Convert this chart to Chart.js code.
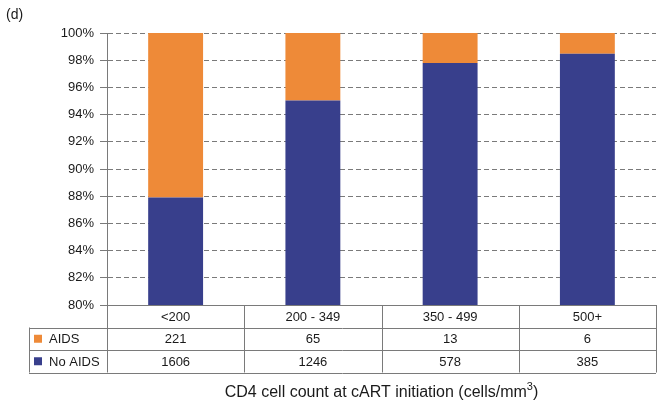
<!DOCTYPE html>
<html>
<head>
<meta charset="utf-8">
<script src="https://cdn.jsdelivr.net/npm/chart.js@4/dist/chart.umd.min.js"></script>
<style>
  html, body { margin: 0; padding: 0; background: #fff; }
  #wrap { width: 663px; height: 408px; position: relative; }
</style>
</head>
<body>
<div id="wrap"><canvas id="chart" width="663" height="408"></canvas></div>
<script>
// 数据
const categories = ['<200', '200 - 349', '350 - 499', '500+'];
const aidsCounts = [221, 65, 13, 6];
const noAidsCounts = [1606, 1246, 578, 385];
const seriesNames = ['AIDS', 'No AIDS'];
const yTicks = [80, 82, 84, 86, 88, 90, 92, 94, 96, 98, 100];

const ORANGE = '#EE8A38';
const NAVY = '#383F8C';
const LINE = '#7a7a7a';
const FONT = 'Liberation Sans, Arial, Helvetica, sans-serif';

// 百分比 (由计数得出)
const noAidsPct = noAidsCounts.map((n, i) => 100 * n / (n + aidsCounts[i]));
const aidsPct = aidsCounts.map((n, i) => 100 * n / (n + noAidsCounts[i]));

// 表格与标题插件
const tablePlugin = {
    id: 'tablePlugin',
    afterDraw(chart) {
        const ctx = chart.ctx;
        const area = chart.chartArea;
        const xs = chart.scales.x;
        const rowH = 22.5;
        const legendLeft = 29;
        const top = area.bottom;
        const n = categories.length;
        const colW = (area.right - area.left) / n;

        ctx.save();
        ctx.strokeStyle = LINE;
        ctx.lineWidth = 1;
        ctx.beginPath();
        // 横线
        ctx.moveTo(area.left, top + 0.5); ctx.lineTo(area.right, top + 0.5);
        for (let r = 1; r <= 3; r++) {
            const y = Math.round(top + r * rowH) + 0.5;
            ctx.moveTo(legendLeft, y); ctx.lineTo(area.right, y);
        }
        // 竖线
        for (let c = 0; c <= n; c++) {
            const x = Math.round(area.left + c * colW) + 0.5;
            ctx.moveTo(x, top); ctx.lineTo(x, top + 3 * rowH);
        }
        ctx.moveTo(legendLeft + 0.5, top + rowH); ctx.lineTo(legendLeft + 0.5, top + 3 * rowH);
        ctx.stroke();

        ctx.fillStyle = '#1a1a1a';
        ctx.font = '13px ' + FONT;
        ctx.textAlign = 'center';
        ctx.textBaseline = 'middle';
        categories.forEach((cat, i) => {
            const x = xs.getPixelForValue(i);
            ctx.fillText(cat, x, top + rowH * 0.5 + 1);
            ctx.fillText(String(aidsCounts[i]), x, top + rowH * 1.5 + 1);
            ctx.fillText(String(noAidsCounts[i]), x, top + rowH * 2.5 + 1);
        });

        // 图例
        const colors = [ORANGE, NAVY];
        ctx.textAlign = 'left';
        seriesNames.forEach((name, r) => {
            const cy = top + rowH * (r + 1.5);
            ctx.fillStyle = colors[r];
            ctx.fillRect(34, cy - 4, 8, 8);
            ctx.fillStyle = '#1a1a1a';
            ctx.fillText(name, 49, cy + 1);
        });

        // x轴标题 (带上标)
        const main = 'CD4 cell count at cART initiation (cells/mm';
        ctx.font = '16px ' + FONT;
        const w1 = ctx.measureText(main).width;
        const w3 = ctx.measureText(')').width;
        ctx.font = '11px ' + FONT;
        const w2 = ctx.measureText('3').width;
        const total = w1 + w2 + w3;
        const x0 = (area.left + area.right) / 2 - total / 2;
        const ty = 393;
        ctx.fillStyle = '#1a1a1a';
        ctx.font = '16px ' + FONT;
        ctx.fillText(main, x0, ty);
        ctx.font = '11px ' + FONT;
        ctx.fillText('3', x0 + w1, ty - 6);
        ctx.font = '16px ' + FONT;
        ctx.fillText(')', x0 + w1 + w2, ty);

        // 面板标记
        ctx.font = '14px ' + FONT;
        ctx.fillText('(d)', 6, 15);
        ctx.restore();
    }
};

const ctx = document.getElementById('chart').getContext('2d');
new Chart(ctx, {
    type: 'bar',
    data: {
        labels: categories,
        datasets: [
            { label: 'No AIDS', data: noAidsPct, backgroundColor: NAVY, categoryPercentage: 1, barPercentage: 0.4 },
            { label: 'AIDS', data: aidsPct, backgroundColor: ORANGE, categoryPercentage: 1, barPercentage: 0.4 }
        ]
    },
    options: {
        responsive: false,
        animation: false,
        layout: { padding: { left: 0, right: 7, top: 33, bottom: 103 } },
        plugins: { legend: { display: false }, tooltip: { enabled: false } },
        scales: {
            x: { stacked: true, display: false },
            y: {
                stacked: true,
                min: 80,
                max: 100,
                afterBuildTicks: s => { s.ticks = yTicks.map(v => ({ value: v })); },
                afterFit: s => { s.width = 107; },
                ticks: {
                    callback: v => v + '%',
                    color: '#1a1a1a',
                    font: { family: FONT, size: 13 },
                    padding: 6
                },
                grid: {
                    color: LINE,
                    tickColor: LINE,
                    tickLength: 7,
                    tickBorderDash: [],
                    lineWidth: 1
                },
                border: { display: true, color: LINE, width: 1, dash: [5, 3] }
            }
        }
    },
    plugins: [tablePlugin]
});
</script>
</body>
</html>
